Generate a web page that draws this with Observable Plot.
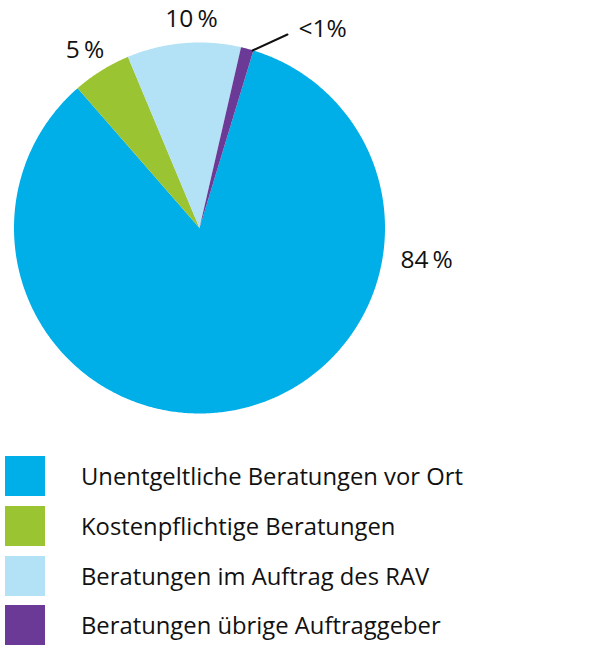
<!DOCTYPE html>
<html>
<head>
<meta charset="utf-8">
<script src="https://cdn.jsdelivr.net/npm/d3@7"></script>
<script src="https://cdn.jsdelivr.net/npm/@observablehq/plot@0.6"></script>
<style>
  html, body { margin: 0; padding: 0; background: #fff; }
  #wrap { position: relative; width: 600px; height: 652px; font-family: "Open Sans", Lato, sans-serif; }
  #chart svg { display: block; }
  .row { position: absolute; left: 0; height: 40px; width: 600px; }
  .sw { position: absolute; left: 5px; top: 0; width: 40px; height: 40px; }
  .lab { position: absolute; left: 81px; top: 0; line-height: 40px; font-size: 23.8px; color: #111; white-space: nowrap; }
</style>
</head>
<body>
<div id="wrap">
  <div id="chart"></div>
  <div id="legend"></div>
</div>
<script>
const categories = [
  "Unentgeltliche Beratungen vor Ort",
  "Kostenpflichtige Beratungen",
  "Beratungen im Auftrag des RAV",
  "Beratungen übrige Auftraggeber"
];
const shares = [83.9, 5.1, 9.9, 1.1];
const valueLabels = ["84\u2009%", "5\u2009%", "10\u2009%", "<1%"];
const colors = ["#00aee8", "#9bc432", "#b3e1f6", "#6b3a96"];

// pie geometry (clockwise from 12 o'clock, degrees)
const startAngle = 16.9;
const total = d3.sum(shares);
let acc = startAngle;
const slices = categories.map((c, i) => {
  const a0 = acc, a1 = acc + shares[i] / total * 360;
  acc = a1;
  return {cat: c, a0, a1, label: valueLabels[i]};
});
const rad = (d) => d * Math.PI / 180;
const pts = [];
for (const s of slices) {
  pts.push({cat: s.cat, x: 0, y: 0});
  const n = Math.max(4, Math.ceil((s.a1 - s.a0) / 0.5));
  for (let k = 0; k <= n; k++) {
    const a = rad(s.a0 + (s.a1 - s.a0) * k / n);
    pts.push({cat: s.cat, x: Math.sin(a), y: Math.cos(a)});
  }
}

// label anchors (in pie radius units)
const labelPos = [
  {x: 1.224, y: -0.175, anchor: "middle"},
  {x: -0.617, y: 0.957, anchor: "middle"},
  {x: -0.043, y: 1.124, anchor: "middle"},
  {x: 0.534, y: 1.070, anchor: "start"}
];
const labels = slices.map((s, i) => ({text: s.label, ...labelPos[i]}));
const leader = [{x: 0.286, y: 0.957}, {x: 0.474, y: 1.043}];

const plot = Plot.plot({
  width: 600,
  height: 445,
  margin: 0,
  x: {domain: [-1, 1], range: [13.5, 384.5], axis: null},
  y: {domain: [-1, 1], range: [413, 42], axis: null},
  color: {domain: categories, range: colors},
  style: {fontFamily: "'Open Sans', Lato, sans-serif", background: "white"},
  marks: [
    Plot.line(pts, {x: "x", y: "y", z: "cat", fill: "cat", stroke: "none", curve: "linear-closed"}),
    Plot.line(leader, {x: "x", y: "y", stroke: "#111", strokeWidth: 2}),
    Plot.text(labels.filter(d => d.anchor === "middle"), {x: "x", y: "y", text: "text", fontSize: 24.5, fill: "#111", textAnchor: "middle"}),
    Plot.text(labels.filter(d => d.anchor === "start"), {x: "x", y: "y", text: "text", fontSize: 24.5, fill: "#111", textAnchor: "start"})
  ]
});
document.getElementById("chart").appendChild(plot);

const legend = document.getElementById("legend");
const tops = [456, 506, 556, 605];
categories.forEach((c, i) => {
  const row = document.createElement("div");
  row.className = "row";
  row.style.top = tops[i] + "px";
  const sw = document.createElement("div");
  sw.className = "sw";
  sw.style.background = colors[i];
  const lab = document.createElement("div");
  lab.className = "lab";
  lab.textContent = c;
  row.appendChild(sw);
  row.appendChild(lab);
  legend.appendChild(row);
});
</script>
</body>
</html>
